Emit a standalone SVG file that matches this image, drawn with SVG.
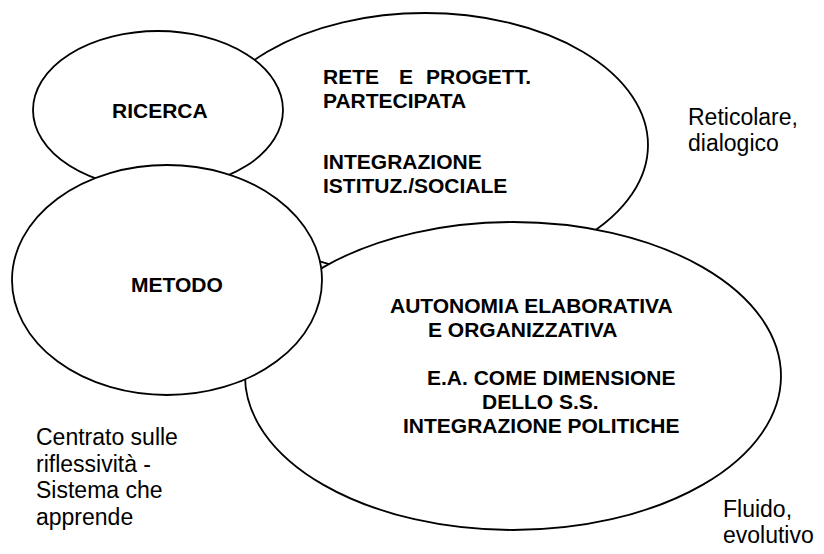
<svg xmlns="http://www.w3.org/2000/svg" width="824" height="554" viewBox="0 0 824 554">
<style>
.shape{fill:#ffffff;stroke:#000000;stroke-width:1.8}
.b{font-family:"Liberation Sans",Arial,sans-serif;font-weight:bold;font-size:21px;fill:#000000}
.r{font-family:"Liberation Sans",Arial,sans-serif;font-size:23px;fill:#000000}
</style>
<rect width="824" height="554" fill="#ffffff"/>
<g id="rete">
<ellipse class="shape" cx="425" cy="145" rx="223" ry="132"/>
<text class="b" y="84"><tspan x="323">RETE</tspan><tspan x="399">E</tspan><tspan x="426">PROGETT.</tspan></text>
<text class="b" x="323" y="108">PARTECIPATA</text>
<text class="b" x="323" y="169">INTEGRAZIONE</text>
<text class="b" x="323" y="193">ISTITUZ./SOCIALE</text>
</g>
<g id="ricerca">
<ellipse class="shape" cx="158" cy="110" rx="125" ry="79"/>
<text class="b" x="112" y="118">RICERCA</text>
</g>
<g id="autonomia">
<ellipse class="shape" cx="513" cy="376" rx="268" ry="154"/>
<text class="b" x="390" y="313">AUTONOMIA ELABORATIVA</text>
<text class="b" x="428" y="337">E ORGANIZZATIVA</text>
<text class="b" x="427" y="385">E.A. COME DIMENSIONE</text>
<text class="b" x="482" y="409">DELLO S.S.</text>
<text class="b" x="403" y="433">INTEGRAZIONE POLITICHE</text>
</g>
<g id="metodo">
<ellipse class="shape" cx="167" cy="280" rx="155" ry="115"/>
<text class="b" x="131" y="292">METODO</text>
</g>
<g id="connectors"/>
<g id="label-reticolare">
<text class="r" x="688" y="125">Reticolare,</text>
<text class="r" x="688" y="151">dialogico</text>
</g>
<g id="label-centrato">
<text class="r" x="36" y="445">Centrato sulle</text>
<text class="r" x="36" y="471.5">riflessività -</text>
<text class="r" x="36" y="498">Sistema che</text>
<text class="r" x="36" y="524.5">apprende</text>
</g>
<g id="label-fluido">
<text class="r" x="723" y="517">Fluido,</text>
<text class="r" x="723" y="543">evolutivo</text>
</g>
</svg>
